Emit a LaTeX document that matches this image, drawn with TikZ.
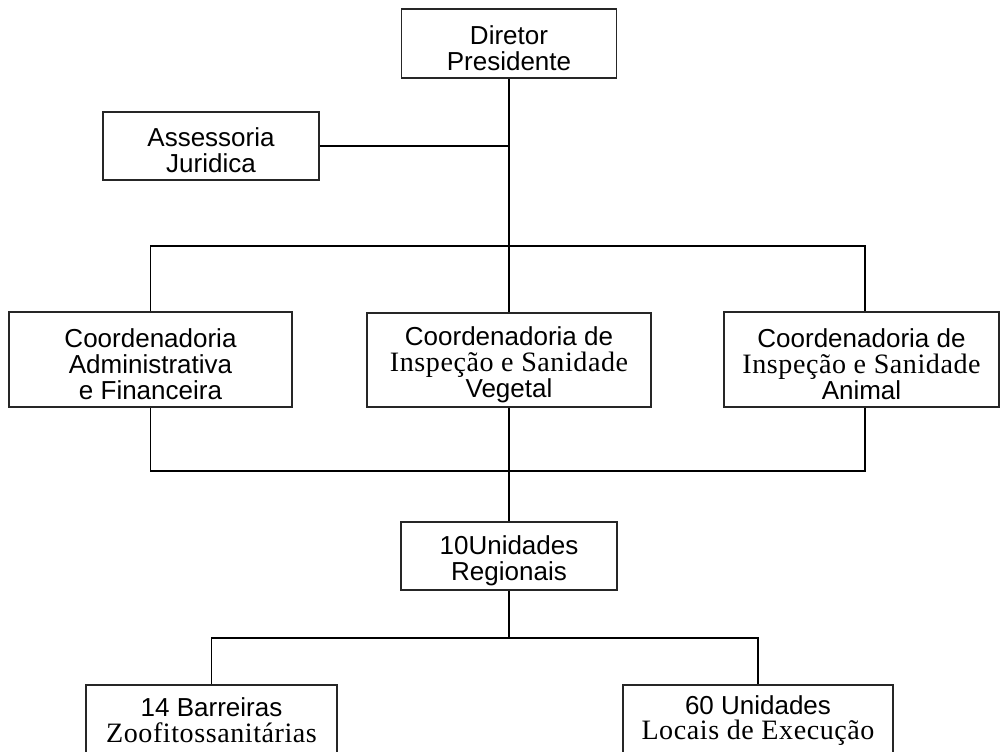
\documentclass[tikz,border=0pt]{standalone}
\usepackage{fontspec}
\setsansfont{Liberation Sans}
\newfontfamily\serifsp{Liberation Serif}[LetterSpace=2, Scale=1.08]
% invisible prop that lowers the text block inside a box
\newcommand\topgap{\rule{0pt}{21pt}}
\begin{document}
\begin{tikzpicture}[x=0.75pt, y=-0.75pt,
  box/.style={draw=black!85, line width=1pt, inner sep=0pt, align=center,
    font=\sffamily\fontsize{19.5}{19.4}\selectfont},
  link/.style={line width=0.8pt, draw=black}]
  \fill[white] (0,0) rectangle (1000,751);
  \useasboundingbox (0,0) rectangle (1000,751);
  \clip (0,0) rectangle (1000,751);

  % boxes
  \node[box, minimum width=161.25pt, minimum height=51.75pt] (dir) at (509,43.5) {\topgap Diretor\\Presidente};
  \node[box, minimum width=162pt, minimum height=51pt] (ass) at (211,146) {\topgap Assessoria\\Juridica};
  \node[box, minimum width=212.25pt, minimum height=71.25pt] (cfin) at (150.5,359.5) {\topgap Coordenadoria\\Administrativa\\e Financeira};
  \node[box, minimum width=213pt, minimum height=70.5pt] (cveg) at (509,360) {\topgap Coordenadoria de\\{\serifsp Inspeção e Sanidade}\\Vegetal};
  \node[box, minimum width=206.25pt, minimum height=71.25pt] (cani) at (861.5,359.5) {\topgap Coordenadoria de\\{\serifsp Inspeção e Sanidade}\\Animal};
  \node[box, minimum width=162pt, minimum height=51pt] (reg) at (509,556) {\topgap 10Unidades\\Regionais};
  \node[box, minimum width=188.25pt, minimum height=53.25pt] (bar) at (211.5,720.5) {14 Barreiras\\{\serifsp Zoofitossanitárias}};
  \node[box, minimum width=202.5pt, minimum height=53.25pt] (loc) at (758,720.5) {60 Unidades\\{\serifsp Locais de Execução}};

  % junction points
  \coordinate (tr) at (865,246);
  \coordinate (br) at (865,471);
  \coordinate (bj) at (509,638);

  % connectors
  \draw[link] (dir.south) -- (cveg.north);
  \draw[link] (ass.east) -- (ass.east -| dir.south);
  \draw[link] (cfin.north) |- (tr) -- (tr |- cani.north);
  \draw[link] (cfin.south) |- (br) -- (br |- cani.south);
  \draw[link] (cveg.south) -- (reg.north);
  \draw[link] (reg.south) -- (bj);
  \draw[link] (bar.north) |- (bj) -| (loc.north);
\end{tikzpicture}
\end{document}
